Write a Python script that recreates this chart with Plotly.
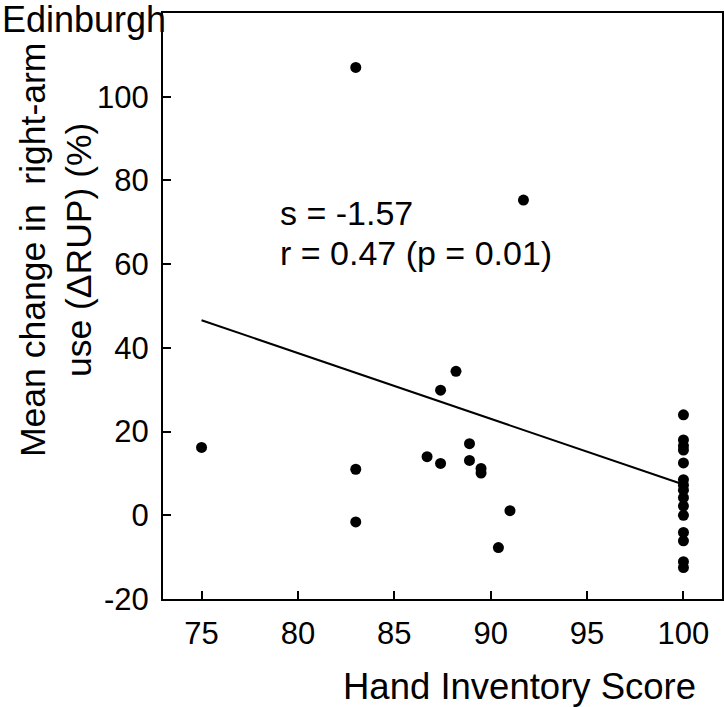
import plotly.graph_objects as go

# Data
hand_score = [83, 91.7, 75, 83, 83, 86.7, 87.4, 87.4, 88.2, 88.9, 88.9, 89.5, 89.5, 91, 90.4,
              100, 100, 100, 100, 100, 100, 100, 100, 100, 100, 100, 100, 100, 100, 100]
delta_rup = [107, 75.3, 16.2, 11, -1.6, 14, 12.4, 29.9, 34.4, 17.1, 13.1, 11.2, 10.1, 1.1, -7.7,
             24, 18, 16.6, 15.6, 12.5, 8.5, 7.2, 6.0, 4.2, 2.2, 0, -4.1, -6.1, -11.1, -12.5]

fit_x = [75, 100]
fit_y = [46.6, 7.35]

x_ticks = [75, 80, 85, 90, 95, 100]
y_ticks = [-20, 0, 20, 40, 60, 80, 100, 120]
y_tick_labels = ["-20", "0", "20", "40", "60", "80", "100", "120"]

FONT = "Liberation Sans, Arial, sans-serif"

fig = go.Figure()
fig.add_trace(go.Scatter(x=hand_score, y=delta_rup, mode="markers",
                         marker=dict(color="black", size=11), showlegend=False))
fig.add_trace(go.Scatter(x=fit_x, y=fit_y, mode="lines",
                         line=dict(color="black", width=2), showlegend=False))

axis_common = dict(showgrid=False, zeroline=False, showline=True, linecolor="black",
                   linewidth=2, mirror=True, ticks="inside", ticklen=8, tickwidth=2,
                   tickcolor="black", automargin=False,
                   tickfont=dict(family=FONT, size=31, color="black"))

fig.update_xaxes(range=[73, 102], tickvals=x_ticks, ticklabelstandoff=6, **axis_common)
fig.update_yaxes(range=[-20, 120], tickvals=y_ticks, ticktext=y_tick_labels,
                 ticklabelstandoff=6, **axis_common)

fig.add_annotation(x=78.95, y=72.2, xref="x", yref="y", text="s = -1.57", showarrow=False,
                   xanchor="left", yanchor="middle", font=dict(family=FONT, size=34, color="black"))
fig.add_annotation(x=78.95, y=62.6, xref="x", yref="y", text="r = 0.47 (p = 0.01)", showarrow=False,
                   xanchor="left", yanchor="middle", font=dict(family=FONT, size=34, color="black"))

fig.add_annotation(x=0.6386, y=-0.1485, xref="paper", yref="paper", text="Hand Inventory Score",
                   showarrow=False, xanchor="center", yanchor="middle",
                   font=dict(family=FONT, size=36.5, color="black"))
fig.add_annotation(x=-0.1914, y=0.5956, xref="paper", yref="paper",
                   text="Mean change in&nbsp;&nbsp;right-arm<br>use (ΔRUP) (%)", textangle=-90,
                   showarrow=False, xanchor="center", yanchor="middle",
                   font=dict(family=FONT, size=35.5, color="black"))
fig.add_annotation(x=-0.2916, y=1.027, xref="paper", yref="paper", text="Edinburgh",
                   showarrow=False, xanchor="left", yanchor="top",
                   font=dict(family=FONT, size=36, color="black"))

fig.update_layout(width=724, height=707, margin=dict(l=163, r=2, t=13, b=108),
                  plot_bgcolor="white", paper_bgcolor="white")

fig.write_html("out.html", config={"displayModeBar": False},
               post_script="document.body.style.margin='0';document.body.style.overflow='hidden';")
